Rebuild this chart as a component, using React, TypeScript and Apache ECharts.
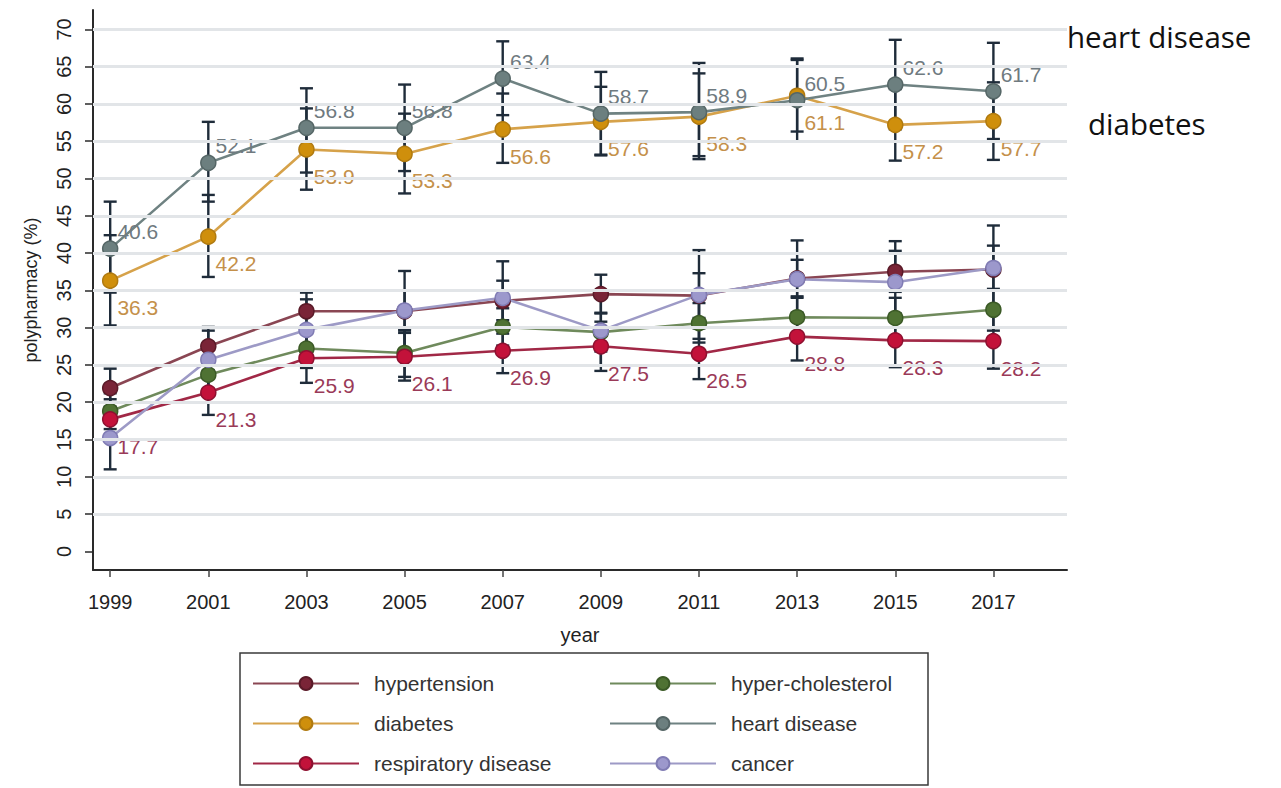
import React, { useEffect, useRef } from "react";
import * as echarts from "echarts";

// Survey years and tick marks
const years = [1999, 2001, 2003, 2005, 2007, 2009, 2011, 2013, 2015, 2017];
const yTicks = [0, 5, 10, 15, 20, 25, 30, 35, 40, 45, 50, 55, 60, 65, 70];
const gridValues = [5, 10, 15, 20, 25, 30, 35, 40, 45, 50, 55, 60, 65, 70];

// Polypharmacy prevalence (%) by condition, with 95% CI bounds
const hypertension = [21.9, 27.5, 32.2, 32.2, 33.6, 34.5, 34.3, 36.6, 37.5, 37.8];
const hypertensionLo = [19.3, 25.0, 29.7, 29.6, 31.0, 31.9, 31.3, 34.2, 34.8, 35.0];
const hypertensionHi = [24.5, 30.1, 34.7, 35.0, 36.3, 37.1, 37.3, 39.1, 40.3, 41.0];

const cholesterol = [18.8, 23.7, 27.2, 26.6, 30.1, 29.4, 30.6, 31.4, 31.3, 32.4];
const cholesterolLo = [16.4, 21.3, 24.6, 23.4, 27.6, 26.8, 28.0, 28.8, 28.6, 29.6];
const cholesterolHi = [21.2, 26.1, 29.8, 29.8, 32.6, 32.0, 33.3, 34.0, 34.0, 35.2];

const diabetes = [36.3, 42.2, 53.9, 53.3, 56.6, 57.6, 58.3, 61.1, 57.2, 57.7];
const diabetesLo = [30.3, 36.8, 48.5, 48.0, 52.1, 53.1, 52.6, 56.3, 52.4, 52.5];
const diabetesHi = [42.4, 47.8, 59.4, 58.7, 61.4, 62.3, 64.1, 66.1, 62.0, 62.9];

const heart = [40.6, 52.1, 56.8, 56.8, 63.4, 58.7, 58.9, 60.5, 62.6, 61.7];
const heartLo = [34.7, 46.9, 50.8, 51.0, 58.5, 53.2, 53.0, 55.0, 56.6, 55.3];
const heartHi = [46.9, 57.6, 62.1, 62.6, 68.4, 64.3, 65.5, 65.9, 68.6, 68.2];

const respiratory = [17.7, 21.3, 25.9, 26.1, 26.9, 27.5, 26.5, 28.8, 28.3, 28.2];
const respiratoryLo = [15.0, 18.3, 22.6, 22.9, 23.9, 24.2, 23.1, 25.6, 24.7, 24.5];
const respiratoryHi = [20.4, 24.3, 29.2, 29.3, 29.9, 30.8, 29.9, 32.0, 31.9, 31.9];

const cancer = [15.2, 25.7, 29.7, 32.3, 34.0, 29.6, 34.4, 36.5, 36.1, 38.0];
const cancerLo = [11.0, 21.8, 25.6, 27.0, 29.2, 24.9, 28.5, 31.4, 30.9, 32.4];
const cancerHi = [19.4, 29.6, 33.8, 37.6, 38.9, 34.3, 40.4, 41.7, 41.6, 43.7];

const FONT = "'Liberation Sans', Arial, Helvetica, sans-serif";

type Cond = {
  name: string;
  values: number[];
  lo: number[];
  hi: number[];
  line: string;
  marker: string;
  edge: string;
  label?: { color: string; dy: number };
};

const conditions: Cond[] = [
  { name: "hypertension", values: hypertension, lo: hypertensionLo, hi: hypertensionHi, line: "#8a4653", marker: "#7a2437", edge: "#5a1a28" },
  { name: "hyper-cholesterol", values: cholesterol, lo: cholesterolLo, hi: cholesterolHi, line: "#6f8a5c", marker: "#4f7233", edge: "#3b5a26" },
  { name: "diabetes", values: diabetes, lo: diabetesLo, hi: diabetesHi, line: "#d6a24a", marker: "#cf8f0c", edge: "#b07a10", label: { color: "#c4904a", dy: 27 } },
  { name: "heart disease", values: heart, lo: heartLo, hi: heartHi, line: "#6f8282", marker: "#6c7f7f", edge: "#556666", label: { color: "#6f7a80", dy: -17 } },
  { name: "respiratory disease", values: respiratory, lo: respiratoryLo, hi: respiratoryHi, line: "#a12846", marker: "#c3123a", edge: "#8e1030", label: { color: "#9a3a58", dy: 27 } },
  { name: "cancer", values: cancer, lo: cancerLo, hi: cancerHi, line: "#9d9ac6", marker: "#9c98cc", edge: "#807cb4" },
];

export default function App() {
  const ref = useRef<HTMLDivElement>(null);

  useEffect(() => {
    if (!ref.current) return;
    const chart = echarts.init(ref.current, null, { renderer: "svg" });

    const errData: number[][] = [];
    conditions.forEach((c) => {
      years.forEach((yr, i) => errData.push([yr, c.lo[i], c.hi[i]]));
    });

    const lineSeries = conditions.map((c) => ({
      name: c.name,
      type: "line",
      z: 4,
      data: years.map((yr, i) => [yr, c.values[i]]),
      symbol: "circle",
      symbolSize: 15,
      lineStyle: { color: c.line, width: 2.6 },
      itemStyle: { color: c.marker, borderColor: c.edge, borderWidth: 1.5 },
      label: c.label
        ? {
            show: true,
            position: "right",
            distance: 0,
            offset: [-1, c.label.dy],
            color: c.label.color,
            fontFamily: FONT,
            fontSize: 21,
            formatter: (p: any) => Number(p.value[1]).toFixed(1),
          }
        : { show: false },
      emphasis: { disabled: true },
    }));

    const legendBase = {
      orient: "vertical",
      top: 673,
      padding: 0,
      itemWidth: 106,
      itemHeight: 16,
      itemGap: 19,
      textStyle: { fontFamily: FONT, fontSize: 21, color: "#333", padding: [0, 0, 0, 10] },
      selectedMode: false,
    };

    const option: any = {
      animation: false,
      backgroundColor: "#ffffff",
      grid: { left: 93, right: 214, top: 10, bottom: 218 },
      xAxis: {
        type: "value",
        min: 1998.65,
        max: 2018.5,
        name: "year",
        nameLocation: "middle",
        nameGap: 55,
        nameTextStyle: { fontFamily: FONT, fontSize: 20, color: "#222" },
        axisLine: { show: true, onZero: false, lineStyle: { color: "#2a2a2a", width: 2 } },
        axisTick: { show: true, customValues: years, length: 7, lineStyle: { color: "#444", width: 1.5 } },
        axisLabel: {
          customValues: years,
          formatter: (v: number) => String(v),
          fontFamily: FONT,
          fontSize: 20,
          color: "#222",
          margin: 22,
        },
        splitLine: { show: false },
      },
      yAxis: {
        type: "value",
        min: -2.5,
        max: 72.6,
        name: "polypharmacy (%)",
        nameLocation: "middle",
        nameGap: 53,
        nameTextStyle: { fontFamily: FONT, fontSize: 18, color: "#222" },
        axisLine: { show: true, lineStyle: { color: "#2a2a2a", width: 2 } },
        axisTick: { show: true, customValues: yTicks, length: 8, lineStyle: { color: "#2a2a2a", width: 1.5 } },
        axisLabel: { customValues: yTicks, rotate: 90, fontFamily: FONT, fontSize: 20, color: "#222", margin: 19 },
        splitLine: { show: false },
      },
      legend: [
        { ...legendBase, data: ["hypertension", "diabetes", "respiratory disease"], left: 252 },
        { ...legendBase, data: ["hyper-cholesterol", "heart disease", "cancer"], left: 609 },
      ],
      graphic: [
        {
          type: "rect",
          shape: { x: 240, y: 653, width: 688, height: 132 },
          style: { fill: "none", stroke: "#3a3a3a", lineWidth: 1.5 },
          silent: true,
        },
        {
          type: "text",
          left: 1067,
          top: 21,
          style: { text: "heart disease", fontFamily: "'Open Sans', sans-serif", fontSize: 29.5, fill: "#111" },
        },
        {
          type: "text",
          left: 1088,
          top: 108,
          style: { text: "diabetes", fontFamily: "'Open Sans', sans-serif", fontSize: 29.5, fill: "#111" },
        },
      ],
      series: [
        {
          name: "grid",
          type: "line",
          data: [],
          z: 1,
          silent: true,
          markLine: {
            silent: true,
            symbol: "none",
            label: { show: false },
            lineStyle: { color: "#e2e5e8", width: 3, type: "solid" },
            data: gridValues.map((v) => ({ yAxis: v })),
          },
        },
        {
          name: "ci",
          type: "custom",
          z: 3,
          silent: true,
          data: errData,
          encode: { x: 0, y: [1, 2] },
          renderItem: (params: any, api: any) => {
            const x = api.value(0);
            const lo = api.coord([x, api.value(1)]);
            const hi = api.coord([x, api.value(2)]);
            const w = 6.5;
            const style = { stroke: "#1f2c3a", lineWidth: 2.4 };
            return {
              type: "group",
              children: [
                { type: "line", shape: { x1: lo[0], y1: lo[1], x2: hi[0], y2: hi[1] }, style },
                { type: "line", shape: { x1: lo[0] - w, y1: lo[1], x2: lo[0] + w, y2: lo[1] }, style },
                { type: "line", shape: { x1: hi[0] - w, y1: hi[1], x2: hi[0] + w, y2: hi[1] }, style },
              ],
            };
          },
        },
        ...lineSeries,
      ],
    };

    chart.setOption(option);
    return () => chart.dispose();
  }, []);

  return (
    <div
      ref={ref}
      style={{ position: "fixed", left: 0, top: 0, width: 1281, height: 788, background: "#fff" }}
    />
  );
}
